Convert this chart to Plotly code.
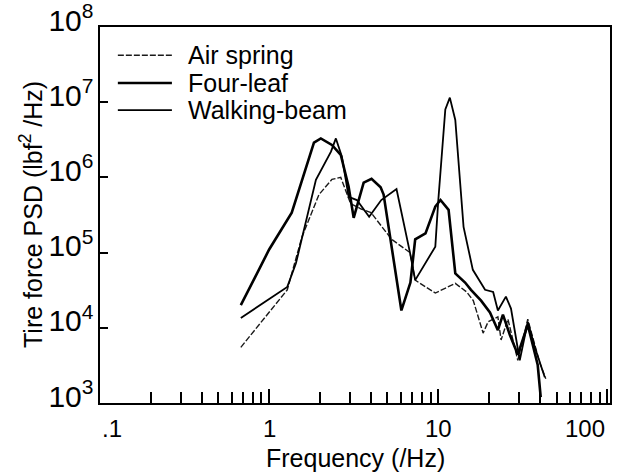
import math
import plotly.graph_objects as go

# ---- data ----
freq_air = [0.68, 1.28, 1.56, 1.97, 2.35, 2.65, 3.03, 3.5, 4.0, 5.3, 6.8, 7.3, 9.6, 12.6,
            14.7, 16.1, 18.4, 19.7, 22.5, 23.5, 25.8, 29.5, 33.8, 39.8, 43.2]
psd_air = [5.5e3, 3.2e4, 1.6e5, 5.9e5, 9.4e5, 1.0e6, 4.5e5, 3.8e5, 3.4e5, 1.5e5, 1.0e5, 4.3e4,
           2.9e4, 3.9e4, 3.0e4, 2.3e4, 8.5e3, 1.2e4, 1.4e4, 6.9e3, 1.3e4, 3.7e3, 1.3e4, 3.4e3, 2.1e3]

freq_four_leaf = [0.68, 1.0, 1.36, 1.84, 2.02, 2.35, 2.65, 2.95, 3.16, 3.62, 4.03, 4.56, 4.75,
                  6.05, 6.84, 7.3, 8.4, 9.6, 10.3, 11.5, 12.6, 14.4, 15.6, 17.9, 20.2, 22.5,
                  24.1, 26.5, 29.5, 33.8, 38.7, 40.3]
psd_four_leaf = [2.0e4, 1.1e5, 3.4e5, 2.9e6, 3.3e6, 2.7e6, 2.0e6, 7.5e5, 2.9e5, 8.5e5, 9.6e5,
                 7.4e5, 5.9e5, 1.7e4, 4.0e4, 1.5e5, 1.8e5, 4.1e5, 5.0e5, 3.7e5, 5.3e4, 4.0e4,
                 3.2e4, 2.3e4, 1.6e4, 9.3e3, 1.5e4, 8.0e3, 4.4e3, 1.1e4, 3.2e3, 1.2e3]

freq_walking = [0.68, 1.28, 1.44, 1.89, 2.32, 2.48, 2.69, 2.95, 3.3, 3.9, 4.6, 5.66, 6.8, 7.3,
                9.6, 10.0, 11.0, 11.7, 12.6, 14.1, 16.0, 17.2, 18.9, 21.1, 22.5, 25.1, 26.9,
                30.3, 33.8, 37.2, 42.6]
psd_walking = [1.35e4, 3.5e4, 7.2e4, 9.3e5, 2.2e6, 3.3e6, 1.9e6, 5.5e5, 5.0e5, 3.0e5, 5.0e5,
               7.0e5, 1.0e5, 4.3e4, 1.2e5, 5.0e5, 8.0e6, 1.15e7, 5.8e6, 2.2e5, 5.9e4, 4.6e4,
               3.2e4, 3.0e4, 1.7e4, 2.6e4, 1.8e4, 3.7e3, 1.2e4, 5.5e3, 2.2e3]

series_names = ["Air spring", "Four-leaf", "Walking-beam"]
x_tick_vals = [0.1, 1, 10, 100]
x_tick_text = [".1", "1", "10", "100"]
x_minor_vals = [m * 10 ** e for e in (-1, 0, 1) for m in range(2, 10)]
x_title = "Frequency (/Hz)"
y_title = "Tire force PSD (lbf<sup>2</sup> /Hz)"

FONT = "Liberation Sans, Arial, Helvetica, sans-serif"

styles = [
    dict(color="#1a1a1a", width=1.4, dash="6px,2px"),
    dict(color="#000000", width=2.6),
    dict(color="#000000", width=1.8),
]
series = [(freq_air, psd_air), (freq_four_leaf, psd_four_leaf), (freq_walking, psd_walking)]

fig = go.Figure()
for (fx, fy), name, st in zip(series, series_names, styles):
    fig.add_trace(go.Scatter(x=fx, y=fy, mode="lines", name=name, line=st, showlegend=False))

# legend drawn by hand (sample line + text), positions in plot-domain fractions
annotations = []
shapes = []
leg_y = [0.925, 0.851, 0.779]
for name, st, yy in zip(series_names, styles, leg_y):
    shapes.append(dict(type="line", xref="paper", yref="paper", x0=0.035, x1=0.141,
                       y0=yy, y1=yy, line=st))
    annotations.append(dict(text=name, xref="paper", yref="paper", x=0.168, y=yy,
                            xanchor="left", yanchor="middle", showarrow=False,
                            font=dict(size=25)))

# x tick labels (edge labels kept inside the frame as in the original)
anchors = ["left", "center", "center", "right"]
for v, t, a in zip(x_tick_vals, x_tick_text, anchors):
    annotations.append(dict(text=t, x=math.log10(v), xref="x", y=0, yref="paper",
                            xanchor=a, yanchor="middle", yshift=-25, showarrow=False,
                            font=dict(size=24)))

# axis titles
annotations.append(dict(text=x_title, xref="paper", yref="paper", x=0.5, y=0,
                        xanchor="center", yanchor="middle", yshift=-55, showarrow=False,
                        font=dict(size=25)))
annotations.append(dict(text=y_title, xref="paper", yref="paper", x=0, y=0.5,
                        xanchor="center", yanchor="middle", xshift=-69, textangle=-90,
                        showarrow=False, font=dict(size=25)))

fig.update_layout(
    width=620, height=475,
    margin=dict(l=100, r=10, t=27, b=72),
    paper_bgcolor="white", plot_bgcolor="white",
    font=dict(family=FONT, color="black", size=24),
    showlegend=False,
    annotations=annotations,
    shapes=shapes,
    xaxis=dict(
        type="log", range=[-1, 2.015], showline=True, linecolor="black", linewidth=1.5,
        mirror=True, showgrid=False, zeroline=False,
        ticks="inside", ticklen=14, tickwidth=1.5, tickcolor="black",
        tickmode="array", tickvals=x_tick_vals, ticktext=x_tick_text,
        showticklabels=False, automargin=False,
        minor=dict(ticks="inside", ticklen=11, tickwidth=1.5, tickcolor="black",
                   tickmode="array", tickvals=x_minor_vals, showgrid=False),
    ),
    yaxis=dict(
        type="log", range=[3, 8], showline=True, linecolor="black", linewidth=1.5,
        mirror=True, showgrid=False, zeroline=False,
        ticks="inside", ticklen=8, tickwidth=1.5, tickcolor="black",
        dtick=1, exponentformat="power", tickfont=dict(size=24),
        ticklabelshift=-7, ticklabeloverflow="allow", automargin=False,
    ),
)

fig.write_html("out.html")
